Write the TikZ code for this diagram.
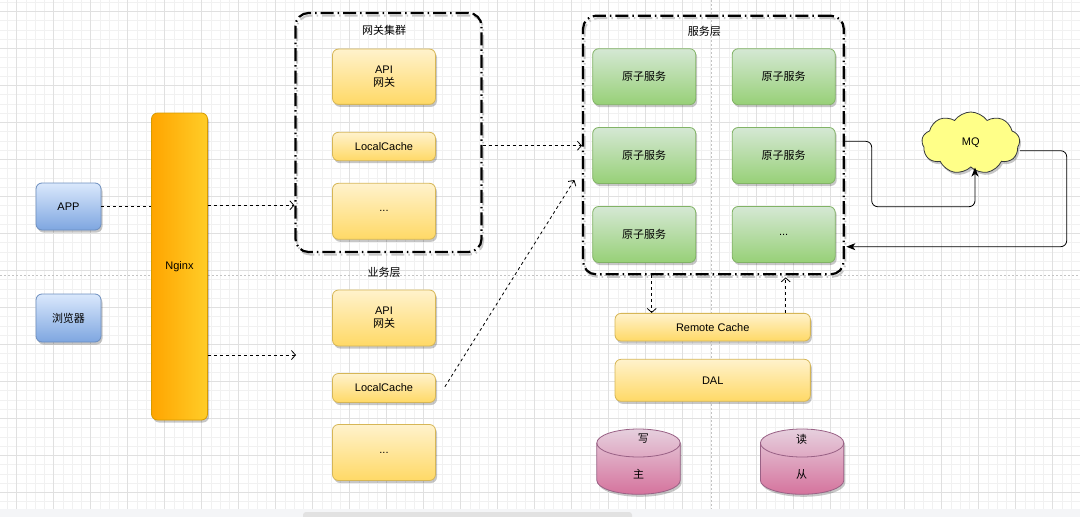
\documentclass[tikz,border=0pt]{standalone}
\usepackage{fontspec}
\setmainfont{Liberation Sans}
\newfontfamily\cjk{Noto Sans CJK SC}
\usetikzlibrary{shapes.geometric,shapes.symbols,arrows.meta,shadows}
\definecolor{gridmajor}{HTML}{E0E0E0}
\definecolor{gridminor}{HTML}{F1F1F1}
\definecolor{guide}{HTML}{C4C4C4}
\definecolor{ytop}{HTML}{FFF2CC}
\definecolor{ybot}{HTML}{FFD966}
\definecolor{yline}{HTML}{D6B656}
\definecolor{gtop}{HTML}{D5E8D4}
\definecolor{gbot}{HTML}{97D077}
\definecolor{gline}{HTML}{82B366}
\definecolor{btop}{HTML}{DAE8FC}
\definecolor{bbot}{HTML}{7EA6E0}
\definecolor{bline}{HTML}{6C8EBF}
\definecolor{oleft}{HTML}{FFA500}
\definecolor{oright}{HTML}{FFCD28}
\definecolor{oline}{HTML}{D79B00}
\definecolor{ptop}{HTML}{E6D0DE}
\definecolor{pbot}{HTML}{D5739D}
\definecolor{pline}{HTML}{996185}
\definecolor{mqfill}{HTML}{FFFF88}
\definecolor{mqline}{HTML}{36393D}
\definecolor{barbg}{HTML}{F4F5F7}
\definecolor{barfg}{HTML}{E2E2E2}
\begin{document}
\begin{tikzpicture}[x=1pt,y=-1pt,
  font=\fontsize{11pt}{13pt}\selectfont,
  boxshadow/.style={drop shadow={shadow xshift=1.5pt,shadow yshift=-2.5pt,opacity=0.22,fill=black}},
  ybox/.style={rectangle,rounded corners=6pt,draw=yline,line width=0.8pt,top color=ytop,bottom color=ybot,boxshadow,inner sep=0pt,align=center},
  gbox/.style={rectangle,rounded corners=6pt,draw=gline,line width=0.8pt,top color=gtop,bottom color=gbot,boxshadow,inner sep=0pt,align=center,minimum width=103pt,minimum height=56pt},
  bbox/.style={rectangle,rounded corners=6pt,draw=bline,line width=0.8pt,top color=btop,bottom color=bbot,boxshadow,inner sep=0pt,align=center,minimum width=65pt},
  container/.style={rectangle,rounded corners=13pt,draw=black,line width=2.2pt,dash pattern=on 13pt off 4pt on 1.5pt off 4pt,inner sep=0pt,
    preaction={draw=black!22,line width=2pt,transform canvas={xshift=1.5pt,yshift=-2.5pt}}},
  dasharrow/.style={draw=black,line width=0.8pt,dash pattern=on 3pt off 3pt,-{Straight Barb[length=4pt,width=9pt,line width=0.8pt]}},
  dashline/.style={draw=black,line width=0.8pt,dash pattern=on 3pt off 3pt},
  solidarrow/.style={draw=black,line width=0.8pt,rounded corners=6pt,-{Stealth[length=9pt,width=7pt,inset=2.5pt]}},
  lbl/.style={inner sep=0pt,align=center},
  cyl/.style={draw=pline,line width=0.8pt,top color=ptop,bottom color=pbot,boxshadow}
]
% background and grid
\useasboundingbox (0,0) rectangle (1080,517);
\fill[white] (0,0) rectangle (1080,517);
\foreach \i in {-1,...,116} \draw[gridminor,line width=0.6pt] ({16.7+9.25*\i},0) -- ({16.7+9.25*\i},509);
\foreach \i in {-1,...,54} \draw[gridminor,line width=0.6pt] (0,{11.5+9.25*\i}) -- (1080,{11.5+9.25*\i});
\foreach \i in {0,...,29} \draw[gridmajor,line width=0.7pt] ({16.7+37*\i},0) -- ({16.7+37*\i},509);
\foreach \i in {0,...,13} \draw[gridmajor,line width=0.7pt] (0,{11.5+37*\i}) -- (1080,{11.5+37*\i});
\draw[guide,line width=0.7pt,dash pattern=on 2pt off 2pt] (711,0) -- (711,509);
\draw[guide,line width=0.7pt,dash pattern=on 2pt off 2pt] (0,275) -- (1080,275);
\fill[barbg] (0,509) rectangle (1080,517);
\fill[barfg,rounded corners=3pt] (303,512) rectangle (632,520);

% clients and nginx
\node[bbox,minimum height=47pt] (app) at (68.5,206.5) {APP};
\node[bbox,minimum height=48pt] (browser) at (68.5,318) {\cjk 浏览器};
\node[rectangle,rounded corners=6pt,draw=oline,line width=0.8pt,left color=oleft,right color=oright,boxshadow,minimum width=56pt,minimum height=307pt,inner sep=0pt] (nginx) at (179.5,266.5) {Nginx};

% gateway cluster
\node[container,minimum width=186pt,minimum height=239pt] (gw) at (388.5,132.5) {};
\node[lbl] (gwlabel) at (384,30.5) {\cjk 网关集群};
\node[ybox,minimum width=103pt,minimum height=55.3pt] (api1) at (384,76.7) {API\\{\cjk 网关}};
\node[ybox,minimum width=103pt,minimum height=28.4pt] (lc1) at (384,146.5) {LocalCache};
\node[ybox,minimum width=103pt,minimum height=56pt] (dots1) at (384,211.3) {...};

% business layer
\node[lbl] (bizlabel) at (384,272) {\cjk 业务层};
\node[ybox,minimum width=103pt,minimum height=56pt] (api2) at (384,318) {API\\{\cjk 网关}};
\node[ybox,minimum width=103pt,minimum height=29pt] (lc2) at (384,388) {LocalCache};
\node[ybox,minimum width=103pt,minimum height=56pt] (dots2) at (384,452.5) {...};

% service layer
\node[container,minimum width=260.7pt,minimum height=258.6pt] (svc) at (713.4,145) {};
\node[lbl] (svclabel) at (704.3,31) {\cjk 服务层};
\node[gbox] (s11) at (644.2,76.7) {\cjk 原子服务};
\node[gbox] (s12) at (783.7,76.7) {\cjk 原子服务};
\node[gbox] (s21) at (644.2,155.5) {\cjk 原子服务};
\node[gbox] (s22) at (783.7,155.5) {\cjk 原子服务};
\node[gbox] (s31) at (644.2,234.5) {\cjk 原子服务};
\node[gbox] (s32) at (783.7,234.5) {...};

% cache and DAL
\node[ybox,minimum width=195.3pt,minimum height=27.7pt] (rc) at (712.7,327.2) {Remote Cache};
\node[ybox,minimum width=195.3pt,minimum height=42pt] (dal) at (712.7,380.3) {DAL};

% databases
\path[cyl] (596.8,443) -- (596.8,480.3) arc[start angle=180,end angle=0,x radius=41.7,y radius=14] -- (680.2,443) arc[start angle=0,end angle=-180,x radius=41.7,y radius=14] -- cycle;
\draw[pline,line width=0.8pt] (596.8,443) arc[start angle=180,end angle=0,x radius=41.7,y radius=14];
\path[cyl] (760.4,443) -- (760.4,480.3) arc[start angle=180,end angle=0,x radius=41.7,y radius=14] -- (843.8,443) arc[start angle=0,end angle=-180,x radius=41.7,y radius=14] -- cycle;
\draw[pline,line width=0.8pt] (760.4,443) arc[start angle=180,end angle=0,x radius=41.7,y radius=14];
\node[lbl] (wlabel) at (643.3,439) {\cjk 写};
\node[lbl] (master) at (638.5,474.3) {\cjk 主};
\node[lbl] (rlabel) at (801.7,439) {\cjk 读};
\node[lbl] (slave) at (801.7,474.3) {\cjk 从};

% MQ
\node[cloud,cloud puffs=9,cloud puff arc=110,aspect=1.7,draw=mqline,fill=mqfill,line width=0.8pt,minimum width=98pt,minimum height=62pt,inner sep=0pt,boxshadow] (mq) at (970.8,143) {MQ};

% connectors
\coordinate (lowin) at (296,355);
\coordinate (svcin) at (574.4,180);
\coordinate (mqback) at (1066.7,246.7);
\coordinate (mqturn) at (871.7,206.7);
\draw[dashline] (app.east) -- (app -| nginx.west);
\draw[dasharrow] ([yshift=1.2pt]app.east -| nginx.east) -- ([yshift=1.2pt]app.east -| gw.west);
\draw[dasharrow] (lowin -| nginx.east) -- (lowin);
\draw[dasharrow] ([yshift=0.8pt]lc1.east -| gw.east) -- ([yshift=0.8pt]lc1.east -| svc.west);
\draw[dasharrow] ([xshift=9pt,yshift=1.3pt]lc2.east) -- (svcin);
\draw[dasharrow] ([xshift=-61pt]rc.north |- svc.south) -- ([xshift=-61pt]rc.north);
\draw[dasharrow] ([xshift=73pt]rc.north) -- ([xshift=73pt,yshift=-2pt]rc.north |- svc.south);
\draw[solidarrow] ([yshift=1.7pt]svc.east |- mq) -| (mqturn) -| ([xshift=4.2pt]mq.south);
\draw[solidarrow] ([yshift=-7.7pt]mq.east) -| (mqback) -- ([xshift=1.5pt]mqback -| svc.east);
\end{tikzpicture}
\end{document}
